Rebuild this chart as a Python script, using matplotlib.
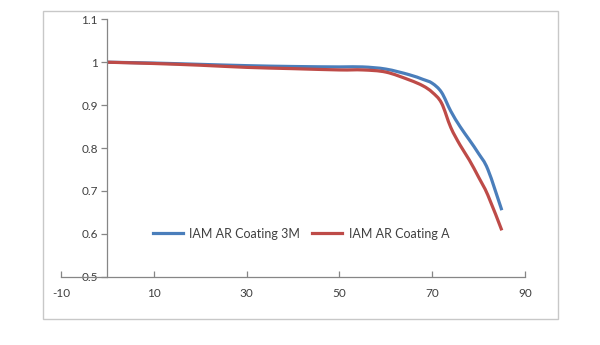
import matplotlib
matplotlib.use("Agg")
import matplotlib.pyplot as plt
from matplotlib.patches import Rectangle, PathPatch
from matplotlib.path import Path
from matplotlib.lines import Line2D

angles = [0, 10, 20, 30, 40, 50, 55, 60, 65, 68, 70, 72, 74, 76, 78, 80, 82, 85]
iam_3m = [1.000, 0.998, 0.995, 0.992, 0.990, 0.989, 0.989, 0.984, 0.971, 0.960,
          0.951, 0.930, 0.886, 0.850, 0.819, 0.787, 0.750, 0.655]
iam_a = [1.000, 0.997, 0.993, 0.988, 0.985, 0.982, 0.982, 0.977, 0.959, 0.945,
         0.930, 0.905, 0.848, 0.807, 0.772, 0.732, 0.690, 0.608]
series_names = ["IAM AR Coating 3M", "IAM AR Coating A"]
series_colors = ['#4a7ebb', '#be4b48']
xticks = [-10, 10, 30, 50, 70, 90]
xticklabels = ["-10", "10", "30", "50", "70", "90"]
yticks = [0.5, 0.6, 0.7, 0.8, 0.9, 1.0, 1.1]
yticklabels = ["0.5", "0.6", "0.7", "0.8", "0.9", "1", "1.1"]

plt.rcParams['font.family'] = ['Lato', 'DejaVu Sans']


def smooth_path(xs, ys):
    """Catmull-Rom style Bezier through the data points (like a smoothed line)."""
    n = len(xs)
    verts = [(xs[0], ys[0])]
    codes = [Path.MOVETO]
    for i in range(n - 1):
        x0, y0 = (xs[i - 1], ys[i - 1]) if i > 0 else (xs[i], ys[i])
        x1, y1 = xs[i], ys[i]
        x2, y2 = xs[i + 1], ys[i + 1]
        x3, y3 = (xs[i + 2], ys[i + 2]) if i + 2 < n else (xs[i + 1], ys[i + 1])
        c1 = (x1 + (x2 - x0) / 6.0, y1 + (y2 - y0) / 6.0)
        c2 = (x2 - (x3 - x1) / 6.0, y2 - (y3 - y1) / 6.0)
        verts += [c1, c2, (x2, y2)]
        codes += [Path.CURVE4] * 3
    return Path(verts, codes)


fig = plt.figure(figsize=(6.0, 3.45), dpi=100)
fig.patch.set_facecolor('white')
fig.add_artist(Rectangle((0.0717, 0.0754), 0.93 - 0.0717, 0.968 - 0.0754,
                         transform=fig.transFigure, fill=False,
                         edgecolor='#c8c8c8', linewidth=1.0))

ax = fig.add_axes([0.1017, 0.198, 0.875 - 0.1017, 0.944 - 0.198])
for ys, col in zip([iam_3m, iam_a], series_colors):
    ax.add_patch(PathPatch(smooth_path(angles, ys), facecolor='none', edgecolor=col,
                           linewidth=2.3, joinstyle='round', capstyle='butt'))

ax.set_xlim(-10, 90)
ax.set_ylim(0.5, 1.1)
ax.spines['left'].set_position(('data', 0))
ax.spines['top'].set_visible(False)
ax.spines['right'].set_visible(False)
for s in ('left', 'bottom'):
    ax.spines[s].set_color('#868686')
    ax.spines[s].set_linewidth(0.9)

ax.set_xticks(xticks)
ax.set_xticklabels(xticklabels)
ax.set_yticks(yticks)
ax.set_yticklabels(yticklabels)
ax.tick_params(axis='x', direction='in', length=4, width=0.9, color='#868686',
               labelsize=8.5, labelcolor='#404040', pad=8)
ax.tick_params(axis='y', direction='out', length=4, width=0.9, color='#868686',
               labelsize=8.5, labelcolor='#404040', pad=3)

handles = [Line2D([], [], color=c, linewidth=2.3) for c in series_colors]
leg = ax.legend(handles, series_names, loc='center', bbox_to_anchor=(0.517, 0.167),
                ncol=2, frameon=False, fontsize=9, handlelength=2.4,
                columnspacing=1.0, handletextpad=0.5)
for t in leg.get_texts():
    t.set_color('#404040')

fig.savefig('out.png', dpi=100, facecolor='white')
